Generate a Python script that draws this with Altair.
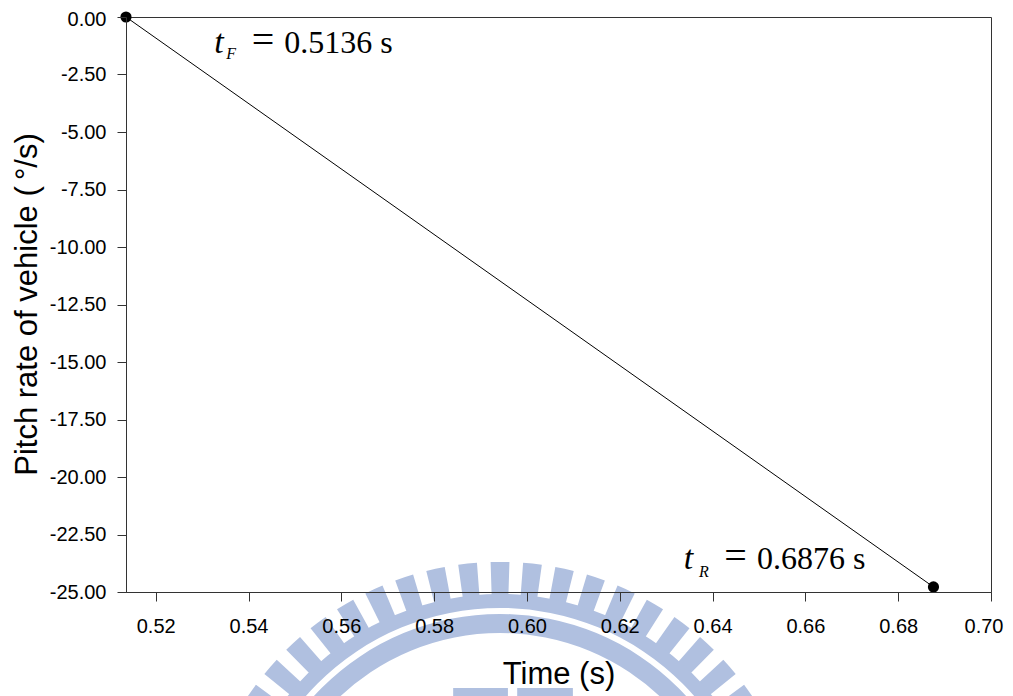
import math
import altair as alt
import pandas as pd

# ---- data -------------------------------------------------------------
times = [0.5136, 0.6876]            # s
pitch_rate = [0.0, -24.78]          # deg/s

x_ticks = [0.52, 0.54, 0.56, 0.58, 0.60, 0.62, 0.64, 0.66, 0.68, 0.70]
y_ticks = [0.0, -2.5, -5.0, -7.5, -10.0, -12.5, -15.0, -17.5, -20.0, -22.5, -25.0]

# annotation pieces: italic "t", subscript, "=", value
ann_t_x = [0.5326, 0.6338]
ann_t_y = [-1.565, -24.0]
ann_sub_text = ["F", "R"]
ann_sub_x = [0.5352, 0.6371]
ann_sub_y = [-1.826, -24.35]
ann_eq_x = [0.5407, 0.6425]
ann_val_text = ["0.5136 s", "0.6876 s"]
ann_val_x = [0.5477, 0.6496]

# background watermark (decorative seal): centre and two small blocks, in data units
wm_cx = 0.5942
wm_cy = -36.91
wm_block_x = [0.5841, 0.5979]
wm_block_x2 = [0.5959, 0.6099]
wm_block_y = [-29.17, -29.17]
wm_block_y2 = [-31.0, -31.0]

# ---- encodings ----------------------------------------------------------
FONT = "Liberation Sans"
SERIF = "Liberation Serif"
WM = "#b0c0e0"
LBL = "replace(format(datum.value, '.2f'), '\u2212', '-')"

x_scale = alt.Scale(domain=[0.5136, 0.70], nice=False, zero=False)
y_scale = alt.Scale(domain=[-25, 0], nice=False, zero=False)

x_enc = alt.X(
    "time:Q", scale=x_scale,
    axis=alt.Axis(values=x_ticks, labelExpr=LBL, title="Time (s)", zindex=2,
                  labelFlush=True, labelFlushOffset=12,
                  labelPadding=15, titleY=91, titleBaseline="alphabetic"),
)
y_enc = alt.Y(
    "rate:Q", scale=y_scale,
    axis=alt.Axis(values=y_ticks, labelExpr=LBL, zindex=2,
                  labelOffset={"condition": {"test": "datum.value == 0", "value": 2}, "value": 0},
                  title="Pitch rate of vehicle (\u2009°/s)",
                  labelPadding=11, titleX=-90, titleY=287, titleAngle=270,
                  titleBaseline="alphabetic", titleAlign="center"),
)

# ---- watermark ------------------------------------------------------------
step = 0.107
half = 0.031
ks = list(range(-13, 14))
spokes = pd.DataFrame({
    "time": [wm_cx] * len(ks),
    "rate": [wm_cy] * len(ks),
    "t0": [k * step - half for k in ks],
    "t1": [k * step + half for k in ks],
})
bands = pd.DataFrame({"time": [wm_cx], "rate": [wm_cy],
                      "t0": [-math.pi / 2], "t1": [math.pi / 2]})
blocks = pd.DataFrame({"time": wm_block_x, "time2": wm_block_x2,
                       "rate": wm_block_y, "rate2": wm_block_y2})

spoke_layer = alt.Chart(spokes).mark_arc(
    radius=304, radius2=262, color=WM, clip=False
).encode(x=x_enc, y=y_enc, theta=alt.Theta("t0:Q", scale=None), theta2="t1:Q")

band1 = alt.Chart(bands).mark_arc(
    radius=272, radius2=258, color=WM, clip=False
).encode(x=x_enc, y=y_enc, theta=alt.Theta("t0:Q", scale=None), theta2="t1:Q")

band2 = alt.Chart(bands).mark_arc(
    radius=252, radius2=233, color=WM, clip=False
).encode(x=x_enc, y=y_enc, theta=alt.Theta("t0:Q", scale=None), theta2="t1:Q")

block_layer = alt.Chart(blocks).mark_rect(color=WM, clip=False).encode(
    x=x_enc, x2="time2:Q", y=y_enc, y2="rate2:Q"
)

# ---- main series ------------------------------------------------------------
df = pd.DataFrame({"time": times, "rate": pitch_rate})

line = alt.Chart(df).mark_line(color="black", strokeWidth=1, clip=False).encode(x=x_enc, y=y_enc)
pts = alt.Chart(df).mark_circle(color="black", size=125, opacity=1, clip=False).encode(x=x_enc, y=y_enc)

t_df = pd.DataFrame({"time": ann_t_x, "rate": ann_t_y, "txt": ["t", "t"]})
sub_df = pd.DataFrame({"time": ann_sub_x, "rate": ann_sub_y, "txt": ann_sub_text})
eq_df = pd.DataFrame({"time": ann_eq_x, "rate": ann_t_y, "txt": ["=", "="]})
val_df = pd.DataFrame({"time": ann_val_x, "rate": ann_t_y, "txt": ann_val_text})

t_txt = alt.Chart(t_df).mark_text(
    align="left", baseline="alphabetic", font=SERIF, fontSize=34,
    fontStyle="italic", color="black", clip=False
).encode(x=x_enc, y=y_enc, text="txt:N")
sub_txt = alt.Chart(sub_df).mark_text(
    align="left", baseline="alphabetic", font=SERIF, fontSize=16,
    fontStyle="italic", color="black", clip=False
).encode(x=x_enc, y=y_enc, text="txt:N")
eq_txt = alt.Chart(eq_df).mark_text(
    align="left", baseline="alphabetic", font=SERIF, fontSize=40,
    color="black", clip=False
).encode(x=x_enc, y=y_enc, text="txt:N")
val_txt = alt.Chart(val_df).mark_text(
    align="left", baseline="alphabetic", font=SERIF, fontSize=32,
    color="black", clip=False
).encode(x=x_enc, y=y_enc, text="txt:N")

chart = alt.layer(
    spoke_layer, band1, band2, block_layer, line, pts, t_txt, sub_txt, eq_txt, val_txt
).properties(
    width=865, height=575,
    padding={"left": 118, "top": 9, "right": 14, "bottom": 104},
    autosize=alt.AutoSizeParams(type="none"),
).configure_view(
    stroke="#333333", strokeWidth=1
).configure_axis(
    grid=False,
    domainColor="#333333", tickColor="#333333", tickSize=9,
    labelFont=FONT, labelFontSize=20, labelColor="black",
    titleFont=FONT, titleFontSize=31, titleFontWeight="normal", titleColor="black",
)

chart.save("out.html", embed_options={"renderer": "svg", "actions": False})
